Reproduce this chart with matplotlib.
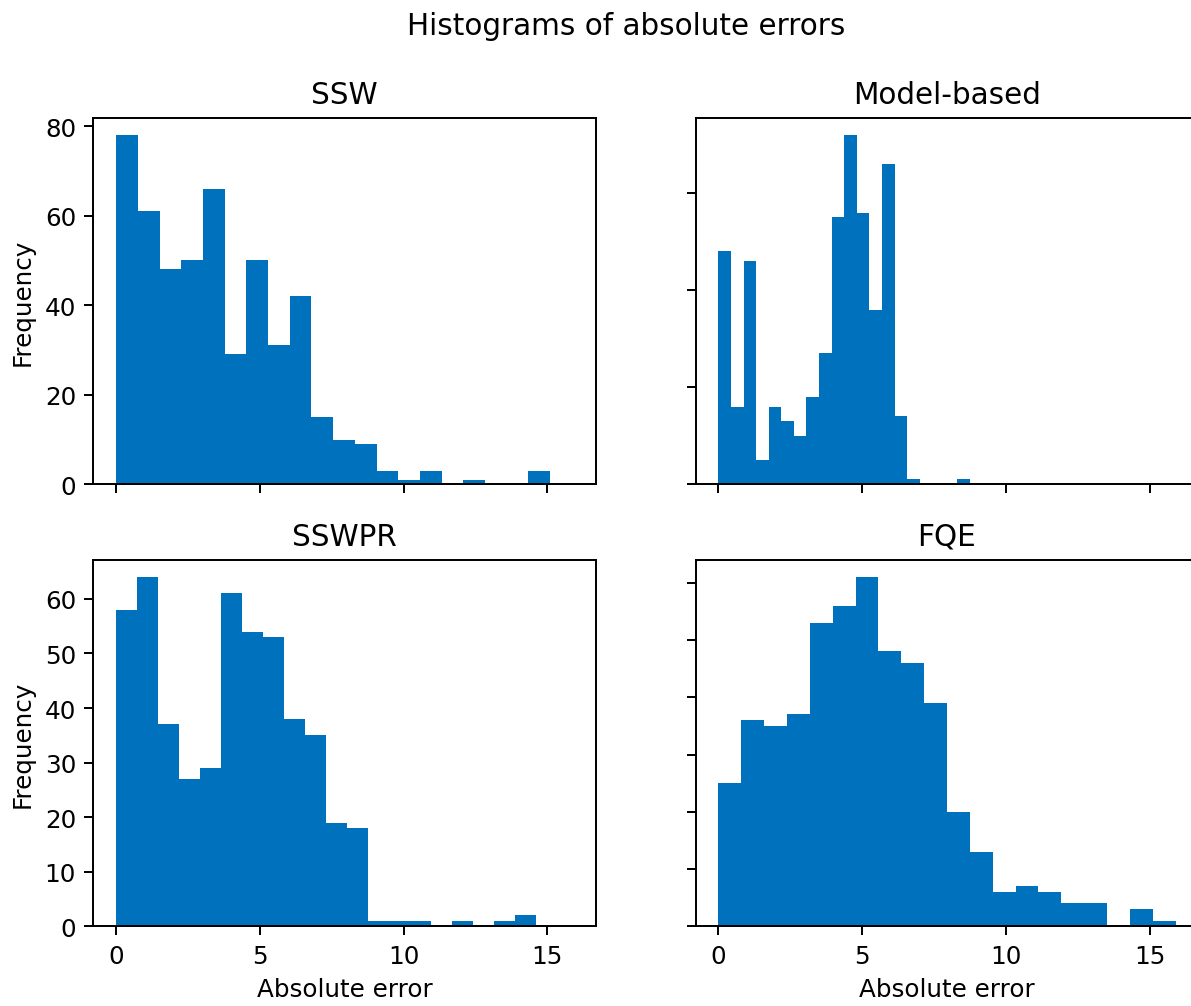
import matplotlib
matplotlib.use('Agg')
import matplotlib.pyplot as plt
import numpy as np

# bin counts (20 bins each, 500 samples)
titles = ['SSW', 'Model-based', 'SSWPR', 'FQE']
ssw_counts = [78, 61, 48, 50, 66, 29, 50, 31, 42, 15, 10, 9, 3, 1, 3, 0, 1, 0, 0, 3]
mb_counts = [48, 16, 46, 5, 16, 13, 10, 18, 27, 55, 72, 56, 36, 66, 14, 1, 0, 0, 0, 1]
sswpr_counts = [58, 64, 37, 27, 29, 61, 54, 53, 38, 35, 19, 18, 1, 1, 1, 0, 1, 0, 1, 2]
fqe_counts = [25, 36, 35, 37, 53, 56, 61, 48, 46, 39, 20, 13, 6, 7, 6, 4, 4, 0, 3, 1]
# min / max absolute error of each method
err_min = [0.0, 0.0, 0.0, 0.0]
err_max = [15.1, 8.75, 14.6, 15.9]

counts = [ssw_counts, mb_counts, sswpr_counts, fqe_counts]
blue = '#0072BD'

fig, axs = plt.subplots(2, 2, sharex=True, figsize=(1191 / 177, 1007 / 177), dpi=177)
# the right column runs slightly past the edge, as in the cropped original
fig.subplots_adjust(left=0.0783, right=1.0062, top=0.8823, bottom=0.0791,
                    wspace=0.198, hspace=0.205)

for ax, title, c, lo, hi in zip(axs.flat, titles, counts, err_min, err_max):
    edges = np.linspace(lo, hi, len(c) + 1)
    centers = 0.5 * (edges[:-1] + edges[1:])
    ax.hist(centers, bins=edges, weights=c, color=blue)
    ax.set_title(title)

for ax in axs[:, 0]:
    ax.set_ylabel('Frequency')
for ax in axs[:, 1]:
    ax.tick_params(labelleft=False)
for ax in axs[1, :]:
    ax.set_xlabel('Absolute error')

fig.suptitle('Histograms of absolute errors', x=0.526, y=0.988)
fig.savefig('out.png', dpi=177)
